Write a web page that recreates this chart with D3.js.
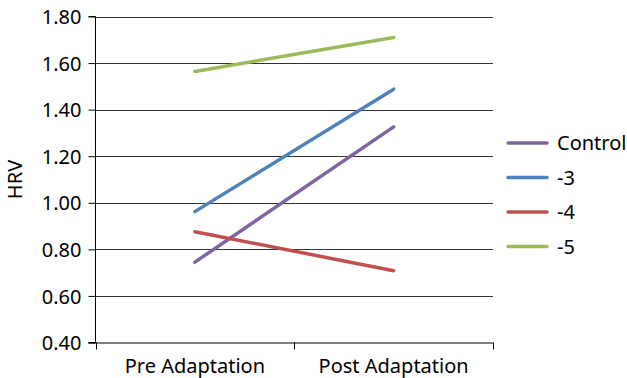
<!DOCTYPE html>
<html><head><meta charset="utf-8">
<script src="https://cdn.jsdelivr.net/npm/d3@7"></script>
<style>body{margin:0;background:#fff}svg{display:block}text{font-family:"Noto Sans",sans-serif;fill:#000}</style>
</head><body><svg id="c" width="627" height="378"></svg>
<script>
const categories = ["Pre Adaptation", "Post Adaptation"];
const seriesNames = ["Control", "-3", "-4", "-5"];
const controlValues = [0.745, 1.326];
const minus3Values = [0.962, 1.488];
const minus4Values = [0.876, 0.708];
const minus5Values = [1.564, 1.71];
const seriesColors = ["#8064A2", "#4F81BD", "#C0504D", "#9BBB59"];
const yTicks = [0.4, 0.6, 0.8, 1.0, 1.2, 1.4, 1.6, 1.8];
const yLabel = "HRV";

(function () {
const series = [controlValues, minus3Values, minus4Values, minus5Values].map((v, i) => ({name: seriesNames[i], values: v, color: seriesColors[i]}));

const svg = d3.select("#c");
const mLeft = 95.5, mRight = 493, mTop = 16.5, mBottom = 342.5;
const x = d3.scaleBand().domain(categories).range([mLeft, mRight]);
const y = d3.scaleLinear().domain([0.4, 1.8]).range([mBottom, mTop]);

// gridlines
svg.append("g").selectAll("line").data(yTicks.slice(1)).join("line")
  .attr("x1", mLeft).attr("x2", mRight)
  .attr("y1", d => Math.round(y(d)) + 0.5).attr("y2", d => Math.round(y(d)) + 0.5)
  .attr("stroke", "#333").attr("stroke-width", 1);

// y axis
const ya = svg.append("g").attr("transform", `translate(${mLeft},0)`)
  .call(d3.axisLeft(y).tickValues(yTicks).tickFormat(d3.format(".2f")).tickSize(7).tickPadding(7));
ya.select(".domain").attr("stroke", "#000").attr("d", `M-7,${y(0.4)}H0V${y(1.8)}H-7`);
ya.selectAll(".tick line").attr("stroke", "#000");
ya.selectAll(".tick text").style("font-size", "20px").attr("fill", "#000").attr("dy", "0.36em");

// x axis
const xa = svg.append("g").attr("transform", `translate(0,${mBottom})`);
xa.append("line").attr("x1", mLeft - 7).attr("x2", mRight).attr("y1", 0.5).attr("y2", 0.5).attr("stroke", "#000");
const bounds = [mLeft].concat(categories.map(c => x(c) + x.bandwidth()));
xa.selectAll("line.t").data(bounds).join("line").attr("class", "t")
  .attr("x1", d => Math.round(d) + 0.5).attr("x2", d => Math.round(d) + 0.5)
  .attr("y1", 0).attr("y2", 7).attr("stroke", "#000");
xa.selectAll("text").data(categories).join("text")
  .attr("x", d => x(d) + x.bandwidth() / 2).attr("y", 30)
  .attr("text-anchor", "middle").style("font-size", "20px").text(d => d);

// y label
svg.append("text").attr("transform", `translate(22,${(mTop + mBottom) / 2}) rotate(-90)`)
  .attr("text-anchor", "middle").style("font-size", "20px").text(yLabel);

// lines
const line = d3.line().x((d, i) => x(categories[i]) + x.bandwidth() / 2).y(d => y(d));
svg.append("g").selectAll("path").data(series).join("path")
  .attr("d", d => line(d.values)).attr("fill", "none")
  .attr("stroke", d => d.color).attr("stroke-width", 3.5).attr("stroke-linecap", "round");

// legend
const lg = svg.append("g").selectAll("g").data(series).join("g")
  .attr("transform", (d, i) => `translate(508,${143 + i * 34.5})`);
lg.append("line").attr("x1", 0).attr("x2", 39).attr("stroke", d => d.color).attr("stroke-width", 3.5).attr("stroke-linecap", "round");
lg.append("text").attr("x", 49).attr("dy", "0.36em").style("font-size", "20px").text(d => d.name);
})();
</script></body></html>
